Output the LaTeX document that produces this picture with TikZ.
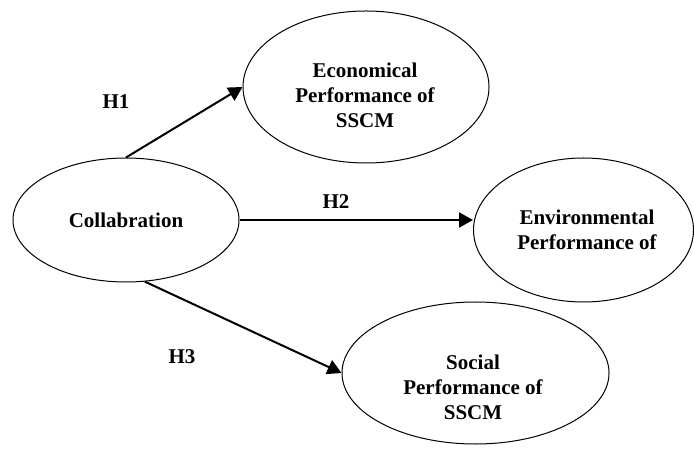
\documentclass[tikz,border=0pt]{standalone}
\usepackage{fontspec}
\setmainfont{Liberation Serif}
\usetikzlibrary{arrows.meta,shapes.geometric}
\begin{document}
\begin{tikzpicture}[x=0.5pt,y=-0.5pt,
  oval/.style={draw,ellipse,line width=0.5pt,inner sep=0pt},
  txt/.style={font=\fontsize{10.5}{12.5}\selectfont\bfseries,align=center},
  hyp/.style={draw,line width=1pt,-{Triangle[length=7pt,width=7.5pt]}}]
\useasboundingbox (0,0) rectangle (694,453);

\node[oval,minimum width=113pt,minimum height=62pt] (collab) at (126,220) {};
\node[oval,minimum width=123pt,minimum height=76pt] (econ) at (366,87) {};
\node[oval,minimum width=110pt,minimum height=72pt] (env) at (583.5,230) {};
\node[oval,minimum width=133.5pt,minimum height=71pt] (social) at (475.5,373) {};

\node[txt] (collab-t) at (126,220) {Collabration};
\node[txt] (econ-t) at (365,95) {Economical\\Performance of\\SSCM};
\node[txt] (env-t) at (587,230) {Environmental\\Performance of};
\node[txt] (social-t) at (473,387) {Social\\Performance of\\SSCM};

\draw[hyp] (collab.north) -- (econ.west);
\draw[hyp] (collab.east) -- (collab.east -| env.west);
\draw[hyp] (collab.-73) -- (social.west);

\node[txt] (h1) at (116,102) {H1};
\node[txt] (h2) at (336,202) {H2};
\node[txt] (h3) at (182,357) {H3};
\end{tikzpicture}
\end{document}
